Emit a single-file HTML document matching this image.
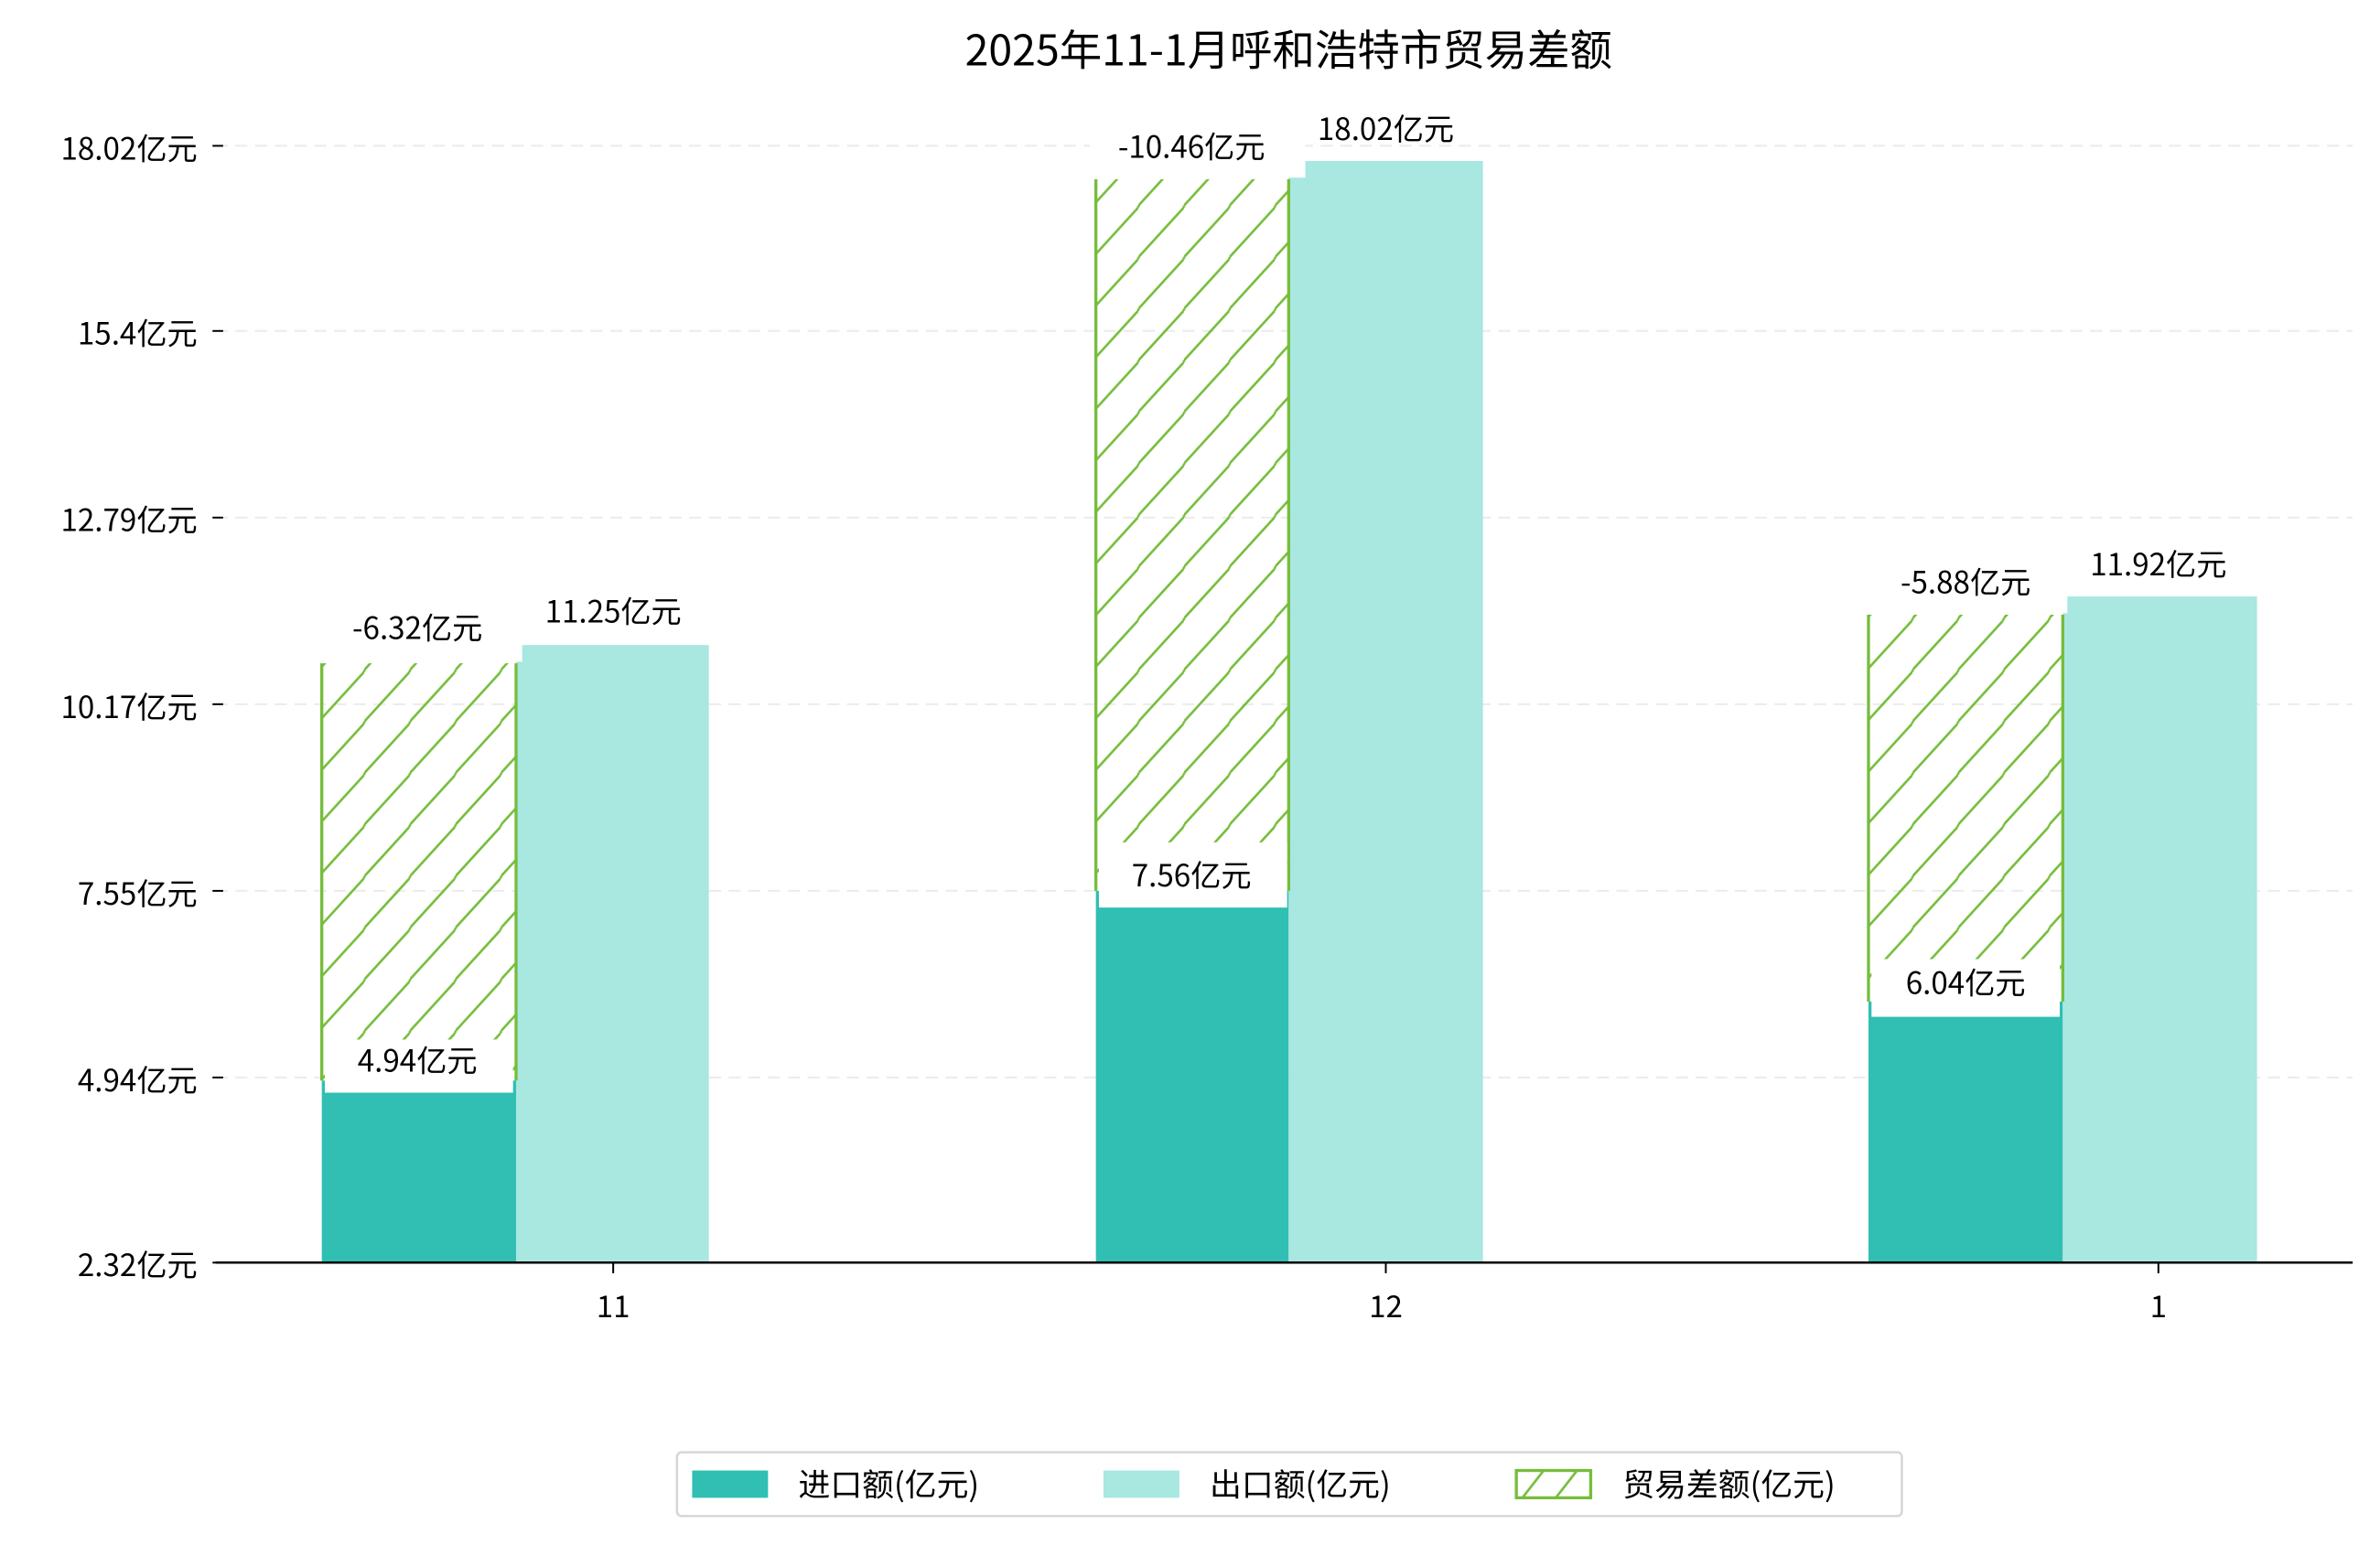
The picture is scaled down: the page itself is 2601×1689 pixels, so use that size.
<!DOCTYPE html>
<html><head><meta charset="utf-8"><style>
html,body{margin:0;padding:0;background:#fff;}
svg{display:block;}
text{font-family:"WenQuanYi Zen Hei","Noto Sans CJK SC","Liberation Sans",sans-serif;fill:#000;}
</style></head><body>
<svg width="2601" height="1689" viewBox="0 0 1568 1018" xmlns="http://www.w3.org/2000/svg">
<defs>
<pattern id="h" patternUnits="userSpaceOnUse" width="30" height="34">
<path d="M-6,40 L36,-6 M-6,6 L6,-6 M24,40 L36,28" stroke="#76bd3c" stroke-width="1.6" fill="none"/>
</pattern>
<pattern id="h2" patternUnits="userSpaceOnUse" x="999" y="969" width="22" height="18">
<path d="M4,18 L18,0" stroke="#76bd3c" stroke-width="1.6" fill="none"/>
</pattern>
</defs>
<rect width="1568" height="1018" fill="#fff"/>
<text x="849" y="43" font-size="28" text-anchor="middle">2025年11-1月呼和浩特市贸易差额</text>
<g stroke="#ebebeb" stroke-width="1.2" stroke-dasharray="8,5">
<line x1="142" x2="1550" y1="96" y2="96"/>
<line x1="142" x2="1550" y1="218" y2="218"/>
<line x1="142" x2="1550" y1="341" y2="341"/>
<line x1="142" x2="1550" y1="464" y2="464"/>
<line x1="142" x2="1550" y1="587" y2="587"/>
<line x1="142" x2="1550" y1="710" y2="710"/>
</g>
<g stroke="#000" stroke-width="1.2">
<line x1="140" x2="147" y1="96" y2="96"/><line x1="140" x2="147" y1="218" y2="218"/>
<line x1="140" x2="147" y1="341" y2="341"/><line x1="140" x2="147" y1="464" y2="464"/>
<line x1="140" x2="147" y1="587" y2="587"/><line x1="140" x2="147" y1="710" y2="710"/>
<line x1="140" x2="147" y1="832" y2="832"/>
<line x1="404" x2="404" y1="832" y2="839"/><line x1="913" x2="913" y1="832" y2="839"/><line x1="1422" x2="1422" y1="832" y2="839"/>
</g>
<g font-size="20" text-anchor="end">
<text x="130" y="105">18.02亿元</text><text x="130" y="227">15.4亿元</text>
<text x="130" y="350">12.79亿元</text><text x="130" y="473">10.17亿元</text>
<text x="130" y="596">7.55亿元</text><text x="130" y="719">4.94亿元</text>
<text x="130" y="841">2.32亿元</text>
</g>
<g font-size="20" text-anchor="middle">
<text x="404" y="868">11</text><text x="913" y="868">12</text><text x="1422" y="868">1</text>
</g>
<rect x="212" y="712" width="128" height="120" fill="#30bfb2"/>
<rect x="340" y="425" width="127" height="407" fill="#a9e7e1"/>
<rect x="212" y="437" width="128" height="275" fill="url(#h)"/>
<line x1="212" x2="212" y1="437" y2="712" stroke="#76bd3c" stroke-width="2"/>
<line x1="340" x2="340" y1="437" y2="712" stroke="#76bd3c" stroke-width="2"/>

<rect x="722" y="587" width="127" height="245" fill="#30bfb2"/>
<rect x="849" y="106" width="128" height="726" fill="#a9e7e1"/>
<rect x="722" y="118" width="127" height="469" fill="url(#h)"/>
<line x1="722" x2="722" y1="118" y2="587" stroke="#76bd3c" stroke-width="2"/>
<line x1="849" x2="849" y1="118" y2="587" stroke="#76bd3c" stroke-width="2"/>

<rect x="1231" y="660" width="128" height="172" fill="#30bfb2"/>
<rect x="1359" y="393" width="128" height="439" fill="#a9e7e1"/>
<rect x="1231" y="405" width="128" height="255" fill="url(#h)"/>
<line x1="1231" x2="1231" y1="405" y2="660" stroke="#76bd3c" stroke-width="2"/>
<line x1="1359" x2="1359" y1="405" y2="660" stroke="#76bd3c" stroke-width="2"/>

<line x1="142" x2="1550" y1="832" y2="832" stroke="#000" stroke-width="1.5"/>
<g fill="#fff">
<rect x="214" y="685" width="124" height="35"/>
<rect x="208" y="400" width="136" height="36"/>
<rect x="724" y="555" width="124" height="43"/>
<rect x="718" y="82" width="142" height="35"/>
<rect x="1233" y="632" width="124" height="38"/>
<rect x="1228" y="370" width="134" height="34"/>
</g>
<g font-size="20" text-anchor="middle">
<text x="275" y="706">4.94亿元</text>
<text x="275" y="421">-6.32亿元</text>
<text x="404" y="410">11.25亿元</text>
<text x="785" y="584">7.56亿元</text>
<text x="785" y="104">-10.46亿元</text>
<text x="913" y="92">18.02亿元</text>
<text x="1295" y="655">6.04亿元</text>
<text x="1295" y="391">-5.88亿元</text>
<text x="1422" y="379">11.92亿元</text>
</g>
<rect x="446" y="957" width="807" height="42" rx="3" fill="#fff" stroke="#d6d6d6" stroke-width="1.5"/>
<rect x="456" y="969" width="50" height="18" fill="#30bfb2"/>
<text x="526" y="986" font-size="21">进口额(亿元)</text>
<rect x="727" y="969" width="50" height="18" fill="#a9e7e1"/>
<text x="797" y="986" font-size="21">出口额(亿元)</text>
<rect x="999" y="969" width="49" height="18" fill="url(#h2)" stroke="#76bd3c" stroke-width="2"/>
<text x="1069" y="986" font-size="21">贸易差额(亿元)</text>
</svg>
</body></html>
